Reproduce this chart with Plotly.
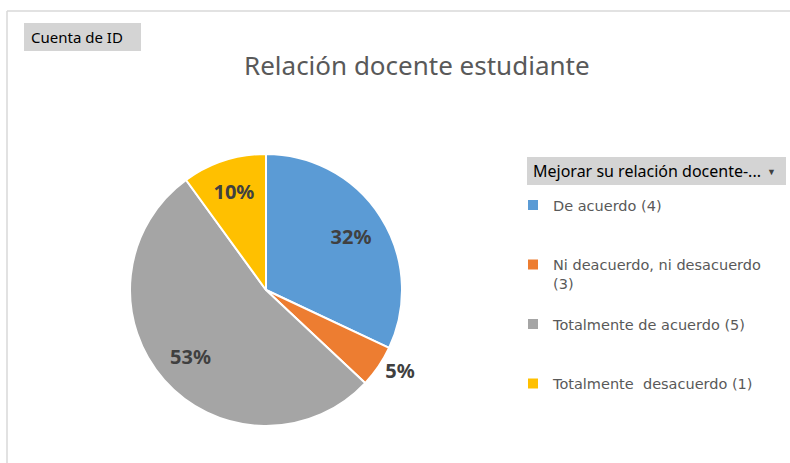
import plotly.graph_objects as go

categories = ["De acuerdo (4)", "Ni deacuerdo, ni desacuerdo (3)", "Totalmente de acuerdo (5)", "Totalmente  desacuerdo (1)"]
legend_labels = ["De acuerdo (4)<br> <br> ", "Ni deacuerdo, ni desacuerdo<br>(3)<br> ", "Totalmente de acuerdo (5)<br> <br> ", "Totalmente  desacuerdo (1)"]
values = [32, 5, 53, 10]
colors = ["#5B9BD5", "#ED7D31", "#A5A5A5", "#FFC000"]
text_pos = ["inside", "outside", "inside", "inside"]

W, H = 790, 463
FONT = "Noto Sans, Open Sans, sans-serif"
LFONT = "DejaVu Sans, sans-serif"

cx, cy, r = 266, 290, 136
domain = dict(x=[(cx - r) / W, (cx + r) / W], y=[(H - cy - r) / H, (H - cy + r) / H])
lab_font = dict(family=FONT, size=20, color="#404040", weight="bold")

fig = go.Figure()
# visible slices
fig.add_trace(go.Pie(
    labels=legend_labels,
    values=values,
    sort=False,
    direction="clockwise",
    rotation=0,
    marker=dict(colors=colors, line=dict(color="white", width=2)),
    textinfo="none",
    domain=domain,
    hovertext=categories,
    hoverinfo="text+percent",
))
# transparent ring used only to place the percentage labels like Excel does
fig.add_trace(go.Pie(
    labels=legend_labels,
    values=values,
    sort=False,
    direction="clockwise",
    rotation=0,
    hole=0.48,
    marker=dict(colors=["rgba(0,0,0,0)"] * len(values), line=dict(width=0)),
    textinfo="percent",
    texttemplate="%{percent:.0%}",
    textposition=text_pos,
    insidetextorientation="horizontal",
    textfont=lab_font,
    outsidetextfont=lab_font,
    insidetextfont=lab_font,
    domain=domain,
    showlegend=False,
    hoverinfo="skip",
))

fig.update_layout(
    width=W, height=H,
    margin=dict(l=0, r=0, t=0, b=0),
    paper_bgcolor="white",
    font=dict(family=FONT, color="#595959"),
    showlegend=True,
    legend=dict(
        x=(553 - 40) / W, xanchor="left",
        y=1 - 189 / H, yanchor="top",
        valign="top",
        font=dict(family=LFONT, size=14.5, color="#595959"),
        bgcolor="rgba(0,0,0,0)",
        itemclick=False,
    ),
    shapes=[
        dict(type="line", xref="paper", yref="paper", x0=7 / W, x1=1, y0=1 - 11 / H, y1=1 - 11 / H,
             line=dict(color="#D9D9D9", width=1.5)),
        dict(type="line", xref="paper", yref="paper", x0=7 / W, x1=7 / W, y0=0, y1=1 - 11 / H,
             line=dict(color="#D9D9D9", width=1.5)),
        dict(type="rect", xref="paper", yref="paper", x0=24 / W, x1=141 / W, y0=1 - 51 / H, y1=1 - 23 / H,
             fillcolor="#D4D4D4", line=dict(width=0), layer="below"),
        dict(type="rect", xref="paper", yref="paper", x0=527 / W, x1=786 / W, y0=1 - 185 / H, y1=1 - 157 / H,
             fillcolor="#D4D4D4", line=dict(width=0), layer="below"),
    ],
    annotations=[
        dict(text="Relación docente estudiante", xref="paper", yref="paper", x=417 / W, y=1 - 65 / H,
             xanchor="center", yanchor="middle", showarrow=False,
             font=dict(family=FONT, size=26, color="#595959")),
        dict(text="Cuenta de ID", xref="paper", yref="paper", x=29 / W, y=1 - 37 / H,
             xanchor="left", yanchor="middle", showarrow=False,
             font=dict(family=FONT, size=15, color="#000000")),
        dict(text="Mejorar su relación docente-...", xref="paper", yref="paper", x=531 / W, y=1 - 171 / H,
             xanchor="left", yanchor="middle", showarrow=False,
             font=dict(family=FONT, size=16, color="#000000")),
        dict(text="▼", xref="paper", yref="paper", x=771 / W, y=1 - 171 / H,
             xanchor="center", yanchor="middle", showarrow=False,
             font=dict(family=FONT, size=9, color="#404040")),
    ],
)

fig.write_html("out.html", config={"displayModeBar": False},
               post_script="document.body.style.margin='0';")
